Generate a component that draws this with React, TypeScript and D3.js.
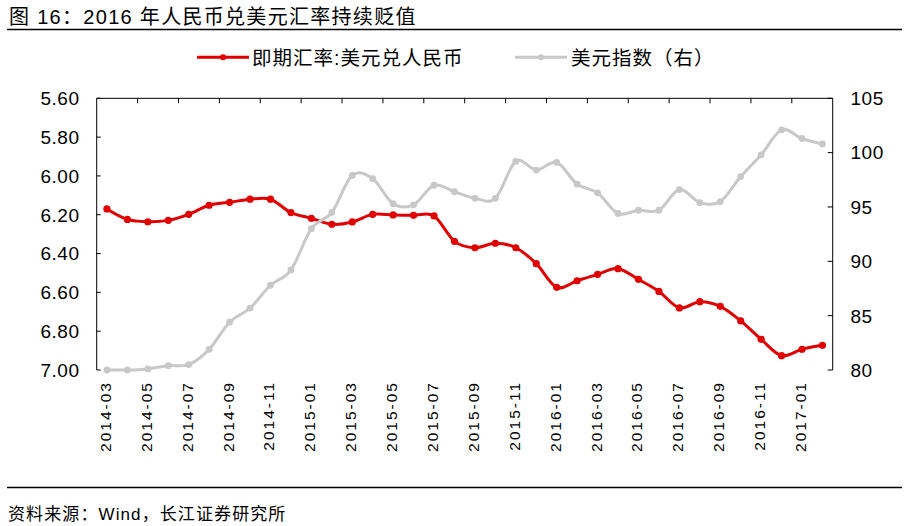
import React, { useEffect, useRef } from 'react';
import * as d3 from 'd3';

const months: string[] = [
  '2014-03', '2014-04', '2014-05', '2014-06', '2014-07', '2014-08', '2014-09', '2014-10', '2014-11', '2014-12',
  '2015-01', '2015-02', '2015-03', '2015-04', '2015-05', '2015-06', '2015-07', '2015-08', '2015-09', '2015-10',
  '2015-11', '2015-12', '2016-01', '2016-02', '2016-03', '2016-04', '2016-05', '2016-06', '2016-07', '2016-08',
  '2016-09', '2016-10', '2016-11', '2016-12', '2017-01', '2017-02',
];

// 即期汇率:美元兑人民币 (left axis, reversed)
const spotRate: number[] = [
  6.170, 6.224, 6.236, 6.229, 6.198, 6.151, 6.136, 6.120, 6.120, 6.189,
  6.218, 6.249, 6.237, 6.198, 6.201, 6.203, 6.206, 6.337, 6.370, 6.347,
  6.370, 6.452, 6.574, 6.540, 6.507, 6.478, 6.533, 6.595, 6.680, 6.648,
  6.672, 6.747, 6.842, 6.926, 6.893, 6.873,
];

// 美元指数（右）
const dollarIndex: number[] = [
  80.0, 80.0, 80.1, 80.4, 80.5, 81.9, 84.4, 85.7, 87.8, 89.2,
  93.0, 94.5, 97.9, 97.6, 95.3, 95.2, 97.0, 96.4, 95.8, 95.8,
  99.2, 98.4, 99.1, 97.1, 96.3, 94.4, 94.7, 94.7, 96.6, 95.4,
  95.5, 97.8, 99.8, 102.1, 101.3, 100.8,
];

const leftTicks: number[] = [5.6, 5.8, 6.0, 6.2, 6.4, 6.6, 6.8, 7.0];
const rightTicks: number[] = [80, 85, 90, 95, 100, 105];

const seriesNames = ['即期汇率:美元兑人民币', '美元指数（右）'];
const title = '图  16：2016 年人民币兑美元汇率持续贬值';
const source = '资料来源：Wind，长江证券研究所';

const RED = '#e00000';
const GRAY = '#c8c8c8';
const FONT = '"Liberation Sans", Arial, "Noto Sans CJK SC", sans-serif';

const W = 909;
const H = 526;

const App: React.FC = () => {
  const svgRef = useRef<SVGSVGElement>(null);

  useEffect(() => {
    if (!svgRef.current) return;
    const svg = d3.select(svgRef.current);
    svg.selectAll('*').remove();

    const plot = { left: 96.7, right: 832.7, top: 98.3, bottom: 370 };

    const x = d3.scaleBand<string>().domain(months).range([plot.left, plot.right]).padding(0);
    const yL = d3.scaleLinear().domain([5.6, 7.0]).range([plot.top, plot.bottom]);
    const yR = d3.scaleLinear().domain([80, 105]).range([plot.bottom, plot.top]);
    const cx = (m: string) => (x(m) || 0) + x.bandwidth() / 2;

    svg.attr('width', W).attr('height', H).style('font-family', FONT);

    // title + rules
    svg.append('text')
      .attr('x', 9).attr('y', 24)
      .attr('font-size', '20px').attr('letter-spacing', '1.3px')
      .attr('fill', '#000')
      .text(title);
    svg.append('line')
      .attr('x1', 7).attr('x2', 902).attr('y1', 29.5).attr('y2', 29.5)
      .attr('stroke', '#000').attr('stroke-width', 1.3);
    svg.append('line')
      .attr('x1', 7).attr('x2', 902).attr('y1', 487.5).attr('y2', 487.5)
      .attr('stroke', '#000').attr('stroke-width', 1.3);
    svg.append('text')
      .attr('x', 8).attr('y', 520)
      .attr('font-size', '17px').attr('letter-spacing', '1.1px')
      .text(source);

    // left axis
    const gl = svg.append('g');
    gl.append('line')
      .attr('x1', plot.left).attr('x2', plot.left).attr('y1', plot.top).attr('y2', plot.bottom)
      .attr('stroke', '#000').attr('stroke-width', 1);
    leftTicks.forEach((t) => {
      gl.append('line')
        .attr('x1', plot.left).attr('x2', plot.left + 4).attr('y1', yL(t)).attr('y2', yL(t))
        .attr('stroke', '#000');
      gl.append('text')
        .attr('x', 79.5).attr('y', yL(t)).attr('dy', '0.36em')
        .attr('text-anchor', 'end').attr('font-size', '19px').attr('letter-spacing', '0.5px')
        .text(d3.format('.2f')(t));
    });

    // right axis
    const gr = svg.append('g');
    gr.append('line')
      .attr('x1', plot.right).attr('x2', plot.right).attr('y1', plot.top).attr('y2', plot.bottom)
      .attr('stroke', '#000');
    rightTicks.forEach((t) => {
      gr.append('line')
        .attr('x1', plot.right - 5).attr('x2', plot.right).attr('y1', yR(t)).attr('y2', yR(t))
        .attr('stroke', '#000');
      gr.append('text')
        .attr('x', 850.5).attr('y', yR(t)).attr('dy', '0.36em')
        .attr('font-size', '19px').attr('letter-spacing', '0.5px')
        .text(String(t));
    });

    // category axis (sits at the top because the left scale is reversed)
    const gx = svg.append('g');
    gx.append('line')
      .attr('x1', plot.left).attr('x2', plot.right).attr('y1', plot.top).attr('y2', plot.top)
      .attr('stroke', '#000');
    months.forEach((m, i) => {
      if (i > 0 && i % 2 === 0) {
        const bx = x(m) || 0;
        gx.append('line')
          .attr('x1', bx).attr('x2', bx).attr('y1', plot.top).attr('y2', plot.top + 5)
          .attr('stroke', '#000');
      }
      if (i % 2 === 0) {
        gx.append('text')
          .attr('transform', `translate(${cx(m) + 4},381) rotate(-90)`)
          .attr('text-anchor', 'end')
          .attr('font-size', '15.5px').attr('letter-spacing', '2px')
          .text(m);
      }
    });

    const line = (vals: number[], y: d3.ScaleLinear<number, number>) =>
      d3.line<number>()
        .x((_, i) => cx(months[i]))
        .y((d) => y(d))
        .curve(d3.curveCatmullRom.alpha(0))(vals) || '';

    // red series
    svg.append('path')
      .attr('d', line(spotRate, yL))
      .attr('fill', 'none').attr('stroke', RED).attr('stroke-width', 3);
    svg.append('g').selectAll('circle')
      .data(spotRate).enter().append('circle')
      .attr('cx', (_, i) => cx(months[i])).attr('cy', (d) => yL(d))
      .attr('r', 3.6).attr('fill', RED);

    // gray series (secondary axis, on top)
    svg.append('path')
      .attr('d', line(dollarIndex, yR))
      .attr('fill', 'none').attr('stroke', GRAY).attr('stroke-width', 3);
    svg.append('g').selectAll('circle')
      .data(dollarIndex).enter().append('circle')
      .attr('cx', (_, i) => cx(months[i])).attr('cy', (d) => yR(d))
      .attr('r', 3.4).attr('fill', GRAY);

    // legend
    const legend = svg.append('g');
    const items = [
      { name: seriesNames[0], color: RED, x0: 197, x1: 249, tx: 252 },
      { name: seriesNames[1], color: GRAY, x0: 515, x1: 567, tx: 571 },
    ];
    items.forEach((it) => {
      legend.append('line')
        .attr('x1', it.x0).attr('x2', it.x1).attr('y1', 57.3).attr('y2', 57.3)
        .attr('stroke', it.color).attr('stroke-width', 3);
      legend.append('circle')
        .attr('cx', (it.x0 + it.x1) / 2).attr('cy', 57.3).attr('r', 3)
        .attr('fill', it.color);
      legend.append('text')
        .attr('x', it.tx).attr('y', 64.5)
        .attr('font-size', '19.5px').attr('letter-spacing', '1px')
        .text(it.name);
    });
  }, []);

  return (
    <div style={{ position: 'absolute', left: 0, top: 0 }}>
      <svg ref={svgRef} />
    </div>
  );
};

export default App;
